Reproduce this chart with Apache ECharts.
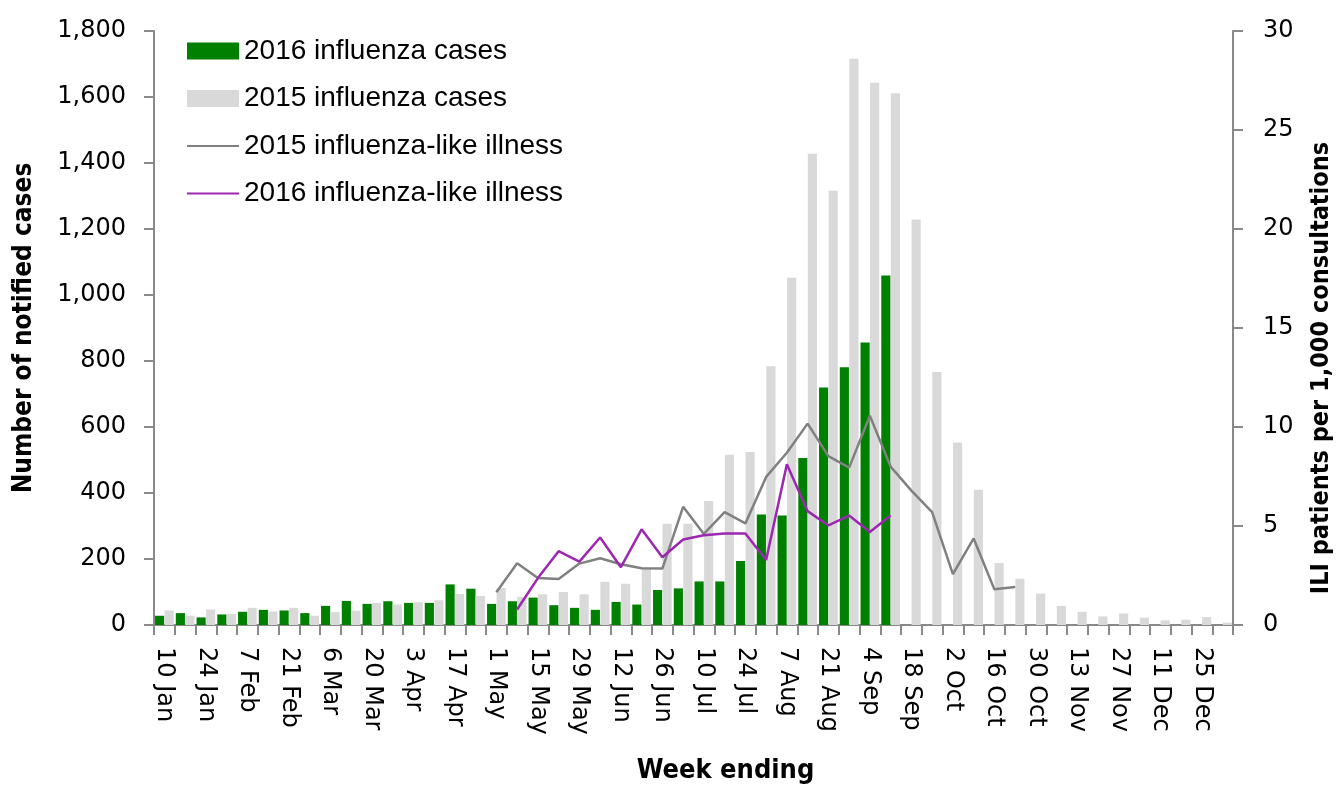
<!DOCTYPE html>
<html>
<head>
<meta charset="utf-8">
<script src="https://cdn.jsdelivr.net/npm/echarts@6/dist/echarts.min.js"></script>
<style>
	html, body { margin: 0; padding: 0; background: #fff; }
	#flu_chart { width: 1342px; height: 789px; }
</style>
</head>
<body>
<div id="flu_chart"></div>
<script type="text/javascript">
	// week ending dates (52 weeks)
	var weeks = [ "10 Jan", "17 Jan", "24 Jan", "31 Jan", "7 Feb", "14 Feb", "21 Feb", "28 Feb",
		"6 Mar", "13 Mar", "20 Mar", "27 Mar", "3 Apr", "10 Apr", "17 Apr", "24 Apr",
		"1 May", "8 May", "15 May", "22 May", "29 May", "5 Jun", "12 Jun", "19 Jun",
		"26 Jun", "3 Jul", "10 Jul", "17 Jul", "24 Jul", "31 Jul", "7 Aug", "14 Aug",
		"21 Aug", "28 Aug", "4 Sep", "11 Sep", "18 Sep", "25 Sep", "2 Oct", "9 Oct",
		"16 Oct", "23 Oct", "30 Oct", "6 Nov", "13 Nov", "20 Nov", "27 Nov", "4 Dec",
		"11 Dec", "18 Dec", "25 Dec", "1 Jan" ];

	// notified cases
	var cases2016 = [ 28, 36, 23, 32, 40, 46, 44, 36, 58, 73, 64, 72, 67, 67, 123, 110,
		64, 72, 83, 60, 52, 46, 70, 62, 106, 111, 132, 132, 194, 335, 332, 506,
		720, 781, 856, 1059 ];
	var cases2015 = [ 44, 28, 47, 34, 52, 41, 52, 28, 39, 43, 67, 62, 69, 75, 94, 88,
		112, 85, 93, 100, 93, 131, 125, 173, 307, 307, 376, 516, 524, 784, 1052, 1428,
		1316, 1716, 1643, 1611, 1229, 767, 553, 410, 188, 140, 95, 58, 40, 26, 35, 22,
		14, 16, 24, 7 ];

	// ILI patients per 1,000 consultations
	var ili2015 = [ null, null, null, null, null, null, null, null,
		null, null, null, null, null, null, null, null,
		1.65, 3.12, 2.37, 2.32, 3.1, 3.37, 3.07, 2.87, 2.85, 5.97, 4.6, 5.7, 5.13, 7.48, 8.7, 10.17,
		8.53, 7.95, 10.57, 8.0, 6.79, 5.7, 2.57, 4.37, 1.8, 1.92 ];
	var ili2016 = [ null, null, null, null, null, null, null, null,
		null, null, null, null, null, null, null, null,
		null, 0.78, 2.37, 3.73, 3.2, 4.42, 2.92, 4.83, 3.42, 4.32, 4.53, 4.62, 4.62, 3.28, 8.12, 5.75,
		5.03, 5.53, 4.7, 5.53 ];

	var axisColor = '#898989';
	var labelFont = 'DejaVu Sans';
	var titleFont = "'DejaVu Sans Condensed', 'Liberation Sans'";

	var option = {
		animation : false,
		grid : {
			left : 154,
			right : 104,
			top : 31,
			bottom : 158
		},
		legend : {
			orient : 'vertical',
			left : 186,
			top : 37,
			padding : 0,
			itemWidth : 52,
			itemHeight : 17,
			itemGap : 19.5,
			textStyle : {
				color : '#000',
				fontFamily : 'Liberation Sans',
				fontSize : 28
			},
			data : [
				{ name : '2016 influenza cases', icon : 'rect' },
				{ name : '2015 influenza cases', icon : 'rect' },
				{ name : '2015 influenza-like illness', itemStyle : { opacity : 0 } },
				{ name : '2016 influenza-like illness', itemStyle : { opacity : 0 } }
			]
		},
		xAxis : {
			type : 'category',
			data : weeks,
			boundaryGap : true,
			name : 'Week ending',
			nameLocation : 'middle',
			nameGap : 132,
			nameTextStyle : {
				color : '#000',
				fontFamily : titleFont,
				fontWeight : 'bold',
				fontSize : 27,
				padding : [ 0, 0, 0, 64 ]
			},
			axisLine : {
				onZero : false,
				lineStyle : { color : axisColor, width : 2 }
			},
			axisTick : {
				show : true,
				interval : 0,
				length : 10,
				lineStyle : { color : axisColor, width : 2 }
			},
			axisLabel : {
				interval : 1,
				rotate : -90,
				margin : 22,
				color : '#000',
				fontFamily : labelFont,
				fontSize : 24
			},
			splitLine : { show : false }
		},
		yAxis : [ {
			type : 'value',
			min : 0,
			max : 1800,
			interval : 200,
			name : 'Number of notified cases',
			nameLocation : 'middle',
			nameRotate : 90,
			nameGap : 117,
			nameTextStyle : {
				color : '#000',
				fontFamily : titleFont,
				fontWeight : 'bold',
				fontSize : 26
			},
			axisLine : {
				show : true,
				lineStyle : { color : axisColor, width : 2 }
			},
			axisTick : {
				show : true,
				length : 10,
				lineStyle : { color : axisColor, width : 2 }
			},
			axisLabel : {
				margin : 28,
				color : '#000',
				fontFamily : labelFont,
				fontSize : 24
			},
			splitLine : { show : false }
		}, {
			type : 'value',
			position : 'right',
			min : 0,
			max : 30,
			interval : 5,
			name : 'ILI patients per 1,000 consultations',
			nameLocation : 'middle',
			nameRotate : 90,
			nameGap : 76,
			nameTextStyle : {
				color : '#000',
				fontFamily : titleFont,
				fontWeight : 'bold',
				fontSize : 25,
				padding : [ 0, 80, 0, 0 ]
			},
			axisLine : {
				show : true,
				lineStyle : { color : axisColor, width : 2 }
			},
			axisTick : {
				show : true,
				length : 10,
				lineStyle : { color : axisColor, width : 2 }
			},
			axisLabel : {
				margin : 30,
				color : '#000',
				fontFamily : labelFont,
				fontSize : 24
			},
			splitLine : { show : false }
		} ],
		series : [ {
			name : '2016 influenza cases',
			type : 'bar',
			yAxisIndex : 0,
			data : cases2016,
			barGap : '4%',
			barCategoryGap : '10%',
			itemStyle : { color : '#008000' }
		}, {
			name : '2015 influenza cases',
			type : 'bar',
			yAxisIndex : 0,
			data : cases2015,
			barGap : '4%',
			barCategoryGap : '10%',
			itemStyle : { color : '#d9d9d9' }
		}, {
			name : '2015 influenza-like illness',
			type : 'line',
			yAxisIndex : 1,
			data : ili2015,
			symbol : 'none',
			connectNulls : false,
			lineStyle : { color : '#808080', width : 2.5 },
			itemStyle : { color : '#808080' }
		}, {
			name : '2016 influenza-like illness',
			type : 'line',
			yAxisIndex : 1,
			data : ili2016,
			symbol : 'none',
			connectNulls : false,
			lineStyle : { color : '#9c27b0', width : 2.5 },
			itemStyle : { color : '#9c27b0' }
		} ]
	};

	var chart = echarts.init(document.getElementById('flu_chart'));
	chart.setOption(option);
</script>
</body>
</html>
